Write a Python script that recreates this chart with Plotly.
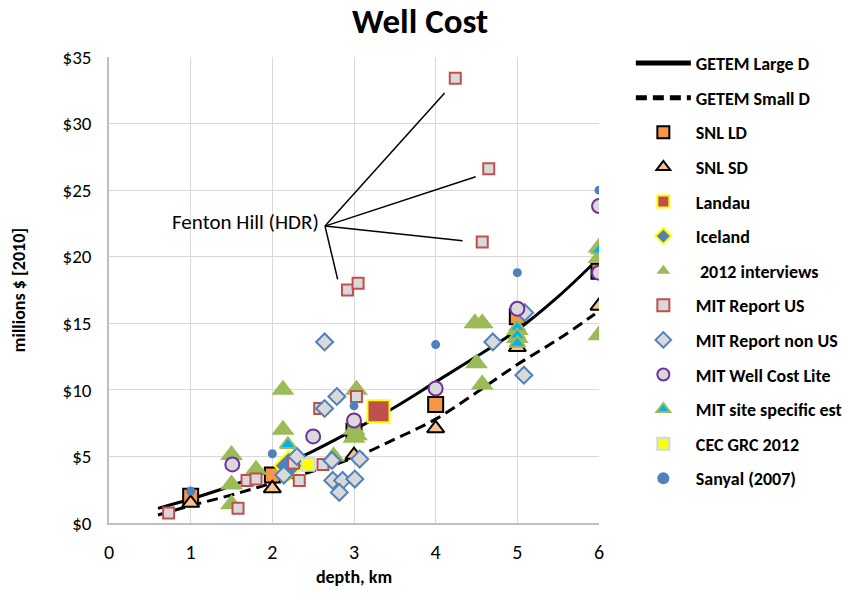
import plotly.graph_objects as go

FONT = "Calibri, Carlito, Lato, sans-serif"

# GETEM curves
getem_depth = [0.6, 1.0, 1.5, 2.0, 2.5, 3.0, 3.5, 4.0, 4.5, 5.0, 5.5, 5.95]
getem_large = [1.1, 1.8, 2.8, 4.0, 5.4, 7.0, 8.7, 10.6, 12.5, 14.5, 17.0, 19.6]
getem_small = [0.6, 1.3, 2.1, 3.0, 3.9, 4.9, 6.3, 7.8, 9.8, 11.9, 13.8, 15.7]

snl_ld_x = [1, 2, 3, 4, 5, 6]
snl_ld_y = [2.0, 3.6, 6.9, 8.9, 15.5, 18.9]

snl_sd_x = [1, 2, 3, 4, 5, 6]
snl_sd_y = [1.5, 2.6, 5.1, 7.1, 13.2, 16.3]

landau_x = [3.3]
landau_y = [8.4]

iceland_x = [2.2]
iceland_y = [4.3]

int2012_x = [1.5, 1.5, 1.5, 1.8, 2.13, 2.13, 2.75, 3.03, 3.0, 3.0, 3.03,
             4.48, 4.57, 4.5, 4.57, 5.0, 5.0, 6.0, 6.0, 6.0]
int2012_y = [5.1, 2.9, 1.4, 4.0, 10.0, 7.0, 5.0, 10.0, 7.0, 6.4, 6.6,
             15.0, 15.0, 12.0, 10.4, 14.5, 13.9, 20.7, 19.9, 14.1]

mit_us_x = [0.73, 1.58, 1.69, 1.8, 2.26, 2.33, 2.58, 2.62, 3.03, 2.92, 3.05, 4.24, 4.65, 4.57]
mit_us_y = [0.75, 1.1, 3.2, 3.3, 4.5, 3.2, 8.6, 4.4, 9.5, 17.5, 18.0, 33.4, 26.6, 21.1]

mit_nonus_x = [2.64, 2.79, 2.64, 2.3, 2.14, 2.73, 3.07, 2.74, 2.86, 3.01, 2.82, 4.7, 5.08, 5.09]
mit_nonus_y = [13.6, 9.5, 8.6, 5.0, 3.6, 4.7, 4.8, 3.2, 3.2, 3.3, 2.3, 13.6, 11.1, 15.8]

mit_lite_x = [1.51, 2.5, 3.0, 4.0, 5.0, 6.0, 6.0]
mit_lite_y = [4.4, 6.5, 7.7, 10.1, 16.1, 23.8, 18.8]

mit_site_x = [2.19, 5.0, 5.0, 5.0, 6.0]
mit_site_y = [5.9, 14.7, 14.1, 13.5, 20.5]

cec_x = [2.44]
cec_y = [4.4]

sanyal_x = [1, 2, 3, 4, 5, 6]
sanyal_y = [2.4, 5.2, 8.8, 13.4, 18.8, 25.0]

fig = go.Figure()

fig.add_trace(go.Scatter(x=getem_depth, y=getem_large, mode="lines", name="GETEM Large D",
                         line=dict(color="black", width=3, shape="spline"), legendgroup="a"))
fig.add_trace(go.Scatter(x=getem_depth, y=getem_small, mode="lines", name="GETEM Small D",
                         line=dict(color="black", width=3, dash="11px,6px", shape="spline"), legendgroup="b"))


def pts(x, y, name, symbol, size, fill, lc, lw, g):
    fig.add_trace(go.Scatter(x=x, y=y, mode="markers", name=name, legendgroup=g,
                             marker=dict(symbol=symbol, size=size, color=fill,
                                         line=dict(color=lc, width=lw))))


pts(snl_ld_x, snl_ld_y, "SNL LD", "square", 15, "#F79646", "black", 2, "c")
pts(snl_sd_x, snl_sd_y, "SNL SD", "triangle-up", 15, "#FAC090", "black", 2, "d")
pts(landau_x, landau_y, "Landau", "square", 22, "#C0504D", "#FFFF00", 2, "e")
pts(iceland_x, iceland_y, "Iceland", "diamond", 22, "#4F81BD", "#FFFF00", 2, "f")
pts(int2012_x, int2012_y, " 2012 interviews", "triangle-up", 20, "#9BBB59", "#9BBB59", 0, "g")
pts(mit_us_x, mit_us_y, "MIT Report US", "square", 11, "#D9D9D9", "#C0504D", 2, "h")
pts(mit_nonus_x, mit_nonus_y, "MIT Report non US", "diamond", 13, "#D9D9D9", "#4F81BD", 2, "i")
pts(mit_lite_x, mit_lite_y, "MIT Well Cost Lite", "circle", 14, "#D9D9D9", "#7030A0", 2, "j")
pts(mit_site_x, mit_site_y, "MIT site specific est", "triangle-up", 14, "#00B0F0", "#9BBB59", 2, "k")
pts(cec_x, cec_y, "CEC GRC 2012", "square", 13, "#FFFF00", "#C6D9F1", 1.5, "l")
pts(sanyal_x, sanyal_y, "Sanyal (2007)", "circle", 9, "#4F81BD", "#4F81BD", 0, "m")

# Fenton Hill callout lines
hub = (2.645, 22.3)
ends = [(4.11, 32.3), (4.49, 26.0), (4.33, 21.2), (2.80, 18.3)]
for ex, ey in ends:
    fig.add_shape(type="line", x0=hub[0], y0=hub[1], x1=ex, y1=ey, xref="x", yref="y",
                  line=dict(color="black", width=1.5))

fig.add_annotation(x=2.6, y=22.6, xref="x", yref="y", text="Fenton Hill (HDR)",
                   showarrow=False, xanchor="right", yanchor="middle",
                   font=dict(family=FONT, size=21, color="black"))

fig.update_layout(
    width=847, height=595,
    margin=dict(l=109, r=248, t=57, b=72, autoexpand=False),
    paper_bgcolor="white", plot_bgcolor="white",
    font=dict(family=FONT, color="black"),
    title=dict(text="<b>Well Cost</b>", x=0.496, xanchor="center", y=0.965, yanchor="middle",
               font=dict(family=FONT, size=35, color="black")),
    showlegend=True,
    legend=dict(x=1.065, y=1.026, xanchor="left", yanchor="top",
                traceorder="grouped", tracegroupgap=8.2, itemsizing="constant",
                itemwidth=55, maxheight=700,
                font=dict(family=FONT, size=18, color="black", weight="bold"),
                bgcolor="rgba(0,0,0,0)"),
)

fig.update_xaxes(range=[0, 6], dtick=1, tick0=0, showgrid=True, gridcolor="#D9D9D9", gridwidth=1,
                 showline=True, linecolor="#BFBFBF", linewidth=1.5, zeroline=False, ticks="",
                 tickfont=dict(family=FONT, size=20), ticklabelstandoff=10,
                 title=dict(text="<b>depth, km</b>", font=dict(family=FONT, size=18), standoff=8))
fig.update_yaxes(range=[0, 35], dtick=5, tick0=0, tickprefix="$", showgrid=True, gridcolor="#D9D9D9",
                 gridwidth=1, showline=True, linecolor="#BFBFBF", linewidth=1.5, zeroline=False, ticks="",
                 tickfont=dict(family=FONT, size=19), ticklabelstandoff=12,
                 title=dict(text="<b>millions $ [2010]</b>", font=dict(family=FONT, size=18), standoff=32))

fig.write_html("out.html")
